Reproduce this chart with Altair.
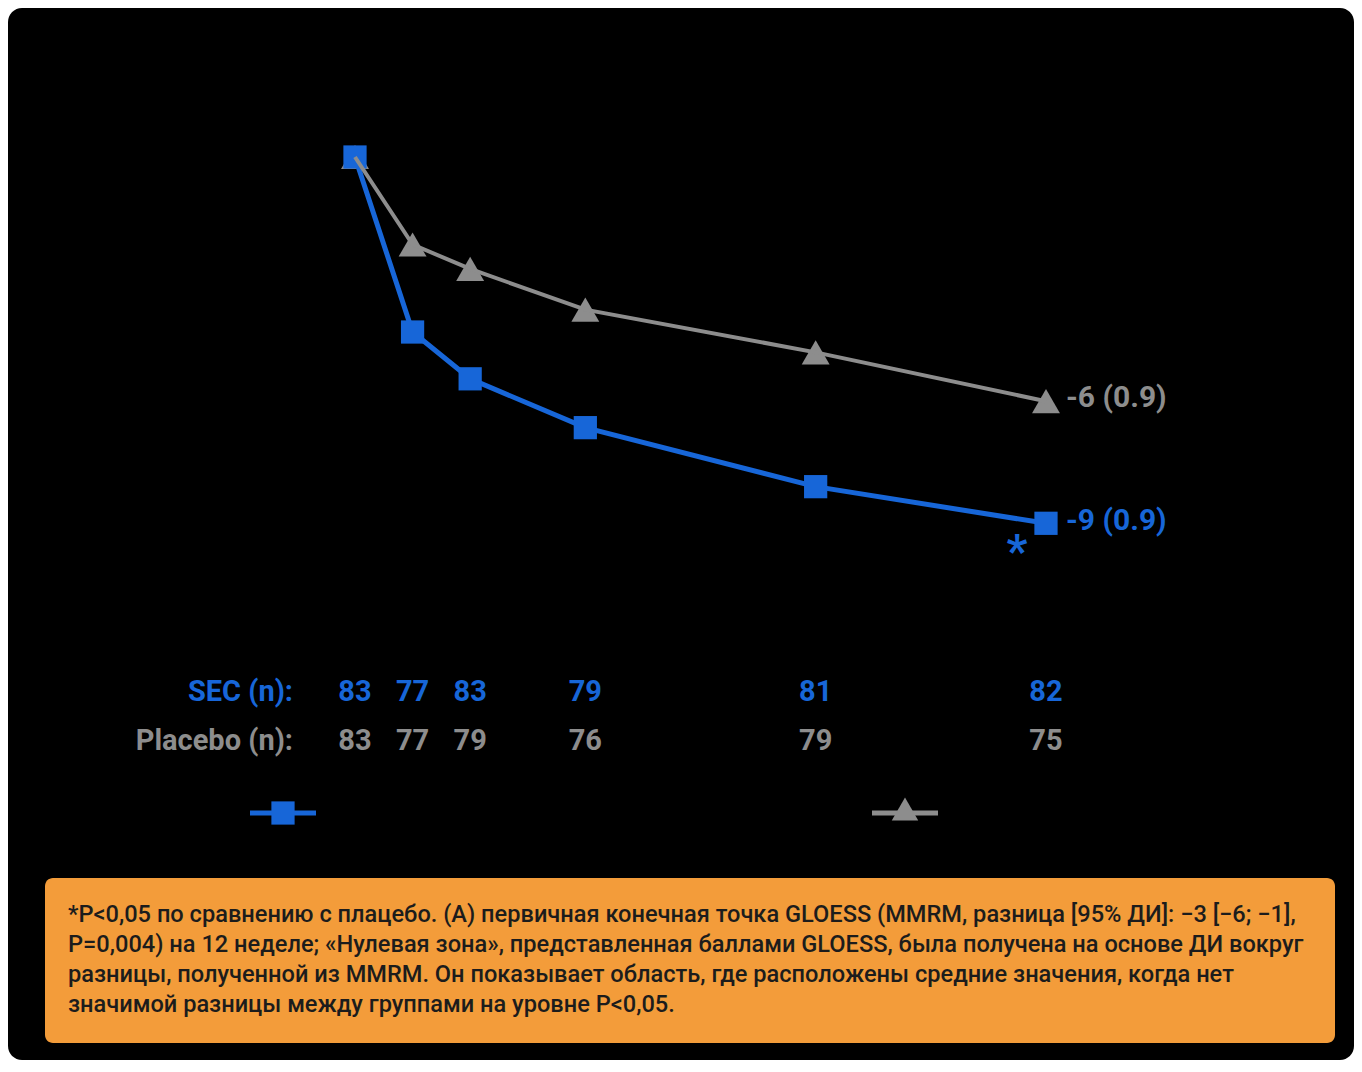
import altair as alt
import pandas as pd

# ---- data ----
weeks = [0, 1, 2, 4, 8, 12]
sec_change = [0.0, -4.3, -5.45, -6.65, -8.1, -9.0]
pbo_change = [0.0, -2.15, -2.75, -3.75, -4.8, -6.0]
sec_n = [83, 77, 83, 79, 81, 82]
pbo_n = [83, 77, 79, 76, 79, 75]
sec_end_label = "-9 (0.9)"
pbo_end_label = "-6 (0.9)"
sec_row_label = "SEC (n):"
pbo_row_label = "Placebo (n):"
footnote_lines = [
    "*P<0,05 по сравнению с плацебо. (А) первичная конечная точка GLOESS (MMRM, разница [95% ДИ]: −3 [−6; −1],",
    "P=0,004) на 12 неделе; «Нулевая зона», представленная баллами GLOESS, была получена на основе ДИ вокруг",
    "разницы, полученной из MMRM. Он показывает область, где расположены средние значения, когда нет",
    "значимой разницы между группами на уровне P<0,05.",
]

BLUE = "#1766d8"
GRAY = "#8d8d8d"
ORANGE = "#f39c3a"
FONT = "Roboto"

df_sec = pd.DataFrame({"week": weeks, "change": sec_change, "n": sec_n})
df_pbo = pd.DataFrame({"week": weeks, "change": pbo_change, "n": pbo_n})
df_sec_end = df_sec.tail(1).assign(label=sec_end_label)
df_pbo_end = df_pbo.tail(1).assign(label=pbo_end_label)
one = pd.DataFrame({"k": [0]})

xs = alt.Scale(domain=[-6.026, 17.349], nice=False, zero=False)
ys = alt.Scale(domain=[-22.187, 3.661], nice=False, zero=False)
X = alt.X("week:Q", scale=xs, axis=None)
Y = alt.Y("change:Q", scale=ys, axis=None)

pbo_pts = alt.Chart(df_pbo).mark_point(shape="triangle-up", filled=True, size=780, color=GRAY, opacity=1).encode(x=X, y=Y)
sec_line = alt.Chart(df_sec).mark_line(color=BLUE, strokeWidth=5).encode(x=X, y=Y)
sec_pts = alt.Chart(df_sec).mark_point(shape="square", filled=True, size=540, color=BLUE, opacity=1).encode(x=X, y=Y)
pbo_line = alt.Chart(df_pbo).mark_line(color=GRAY, strokeWidth=4).encode(x=X, y=Y)

sec_lab = alt.Chart(df_sec_end).mark_text(align="left", baseline="middle", dx=20, dy=-2, fontSize=30,
                                          fontWeight="bold", font=FONT, color=BLUE).encode(x=X, y=Y, text="label:N")
pbo_lab = alt.Chart(df_pbo_end).mark_text(align="left", baseline="middle", dx=20, dy=-3, fontSize=30,
                                          fontWeight="bold", font=FONT, color=GRAY).encode(x=X, y=Y, text="label:N")
star = alt.Chart(df_sec_end).mark_text(text="*", align="center", baseline="alphabetic", dx=-29, dy=44,
                                       fontSize=46, fontWeight="bold", font=FONT, color=BLUE).encode(x=X, y=Y)

sec_tab = alt.Chart(df_sec).mark_text(baseline="middle", fontSize=29, fontWeight="bold", font=FONT,
                                      color=BLUE).encode(x=X, y=alt.value(684), text="n:Q")
pbo_tab = alt.Chart(df_pbo).mark_text(baseline="middle", fontSize=29, fontWeight="bold", font=FONT,
                                      color=GRAY).encode(x=X, y=alt.value(733), text="n:Q")
sec_rowlab = alt.Chart(one).mark_text(text=sec_row_label, align="right", baseline="middle", fontSize=29,
                                      fontWeight="bold", font=FONT, color=BLUE).encode(x=alt.value(285), y=alt.value(684))
pbo_rowlab = alt.Chart(one).mark_text(text=pbo_row_label, align="right", baseline="middle", fontSize=29,
                                      fontWeight="bold", font=FONT, color=GRAY).encode(x=alt.value(285), y=alt.value(733))

# legend symbols (labels are not visible in the reference)
leg_sec_rule = alt.Chart(one).mark_rule(color=BLUE, strokeWidth=5).encode(x=alt.value(242), x2=alt.value(308), y=alt.value(805))
leg_sec_pt = alt.Chart(one).mark_point(shape="square", filled=True, size=540, color=BLUE, opacity=1).encode(x=alt.value(275), y=alt.value(805))
leg_pbo_rule = alt.Chart(one).mark_rule(color=GRAY, strokeWidth=5).encode(x=alt.value(864), x2=alt.value(930), y=alt.value(805))
leg_pbo_pt = alt.Chart(one).mark_point(shape="triangle-up", filled=True, size=700, color=GRAY, opacity=1).encode(x=alt.value(897), y=alt.value(801))

box = alt.Chart(one).mark_rect(color=ORANGE, cornerRadius=8).encode(
    x=alt.value(37), x2=alt.value(1327), y=alt.value(870), y2=alt.value(1035))
foot = alt.Chart(one).mark_text(text=footnote_lines, align="left", baseline="middle", lineHeight=30,
                                fontSize=23.6, font=FONT, fontWeight=500, color="#1c1c1c").encode(
    x=alt.value(60), y=alt.value(907))

chart = alt.layer(
    pbo_pts, sec_line, sec_pts, pbo_line, sec_lab, pbo_lab, star,
    sec_tab, pbo_tab, sec_rowlab, pbo_rowlab,
    leg_sec_rule, leg_sec_pt, leg_pbo_rule, leg_pbo_pt,
    box, foot,
).properties(
    width=1346, height=1052,
    autosize=alt.AutoSizeParams(type="none"),
    padding=0, background="white",
).configure_view(fill="black", stroke="black", strokeWidth=0, cornerRadius=14)

chart.save("out.html", embed_options={"renderer": "svg", "actions": False})
